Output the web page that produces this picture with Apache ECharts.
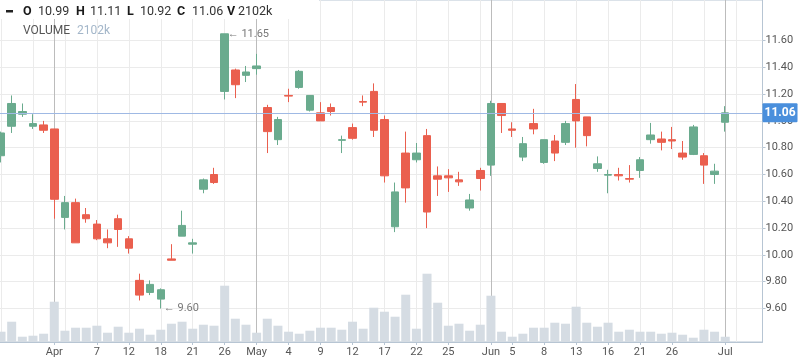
<!DOCTYPE html>
<html>
<head>
<meta charset="utf-8">
<script src="https://cdn.jsdelivr.net/npm/echarts@6/dist/echarts.min.js"></script>
<style>
html,body{margin:0;padding:0;background:#fff;}
#chart{width:798px;height:363px;}
</style>
</head>
<body>
<div id="chart"></div>
<script>
// ---- data ----
const categories = ['03-25','03-26','03-27','03-28','03-31','04-01','04-02','04-03','04-04','04-07','04-09','04-10','04-12','04-14','04-16','04-18','04-19','04-20','04-21','04-23','04-24','04-26','04-28','04-29','05-01','05-02','05-03','05-04','05-06','05-07','05-09','05-10','05-11','05-12','05-14','05-15','05-17','05-19','05-20','05-22','05-23','05-24','05-25','05-27','05-28','05-30','06-01','06-03','06-05','06-06','06-07','06-08','06-10','06-11','06-13','06-14','06-15','06-16','06-18','06-19','06-21','06-22','06-24','06-26','06-27','06-28','06-29','06-30','07-01'];
const padCategories = ['', ' ', '  '];
const opens  = [10.74,10.96,11.05,10.96,10.97,10.94,10.28,10.39,10.30,10.23,10.12,10.27,10.12,9.81,9.72,9.67,9.97,10.14,10.08,10.49,10.60,11.22,11.38,11.34,11.39,11.10,10.86,11.19,11.25,11.08,11.06,11.10,10.855,10.95,11.145,11.22,11.01,10.21,10.76,10.71,10.89,10.59,10.59,10.56,10.35,10.63,10.67,11.13,10.94,10.73,10.98,10.69,10.85,10.84,11.16,11.03,10.645,10.595,10.60,10.57,10.63,10.86,10.865,10.86,10.76,10.75,10.74,10.60,10.99];
const closes = [10.91,11.13,11.07,10.98,10.93,10.415,10.39,10.09,10.27,10.12,10.09,10.19,10.05,9.70,9.78,9.74,9.96,10.22,10.09,10.56,10.54,11.65,11.27,11.365,11.41,10.92,11.01,11.185,11.37,11.19,11.00,11.07,10.86,10.87,11.14,10.93,10.59,10.47,10.50,10.76,10.32,10.565,10.575,10.545,10.41,10.57,11.13,11.04,10.93,10.83,10.94,10.86,10.76,10.98,11.00,10.89,10.68,10.60,10.59,10.565,10.71,10.895,10.84,10.85,10.73,10.955,10.67,10.625,11.06];
const lows   = [10.69,10.91,11.03,10.94,10.91,10.27,10.19,10.09,10.24,10.11,10.05,10.06,10.01,9.66,9.70,9.60,9.96,10.14,10.01,10.46,10.53,11.16,11.17,11.29,11.345,10.76,10.82,11.14,11.24,11.07,11.00,11.04,10.76,10.86,11.11,10.88,10.54,10.17,10.39,10.69,10.20,10.44,10.47,10.515,10.33,10.48,10.59,10.91,10.88,10.70,10.90,10.68,10.70,10.82,10.80,10.81,10.62,10.46,10.555,10.54,10.575,10.83,10.78,10.79,10.71,10.745,10.53,10.53,10.92];
const highs  = [10.92,11.19,11.13,11.05,11.00,10.94,10.44,10.42,10.35,10.26,10.19,10.30,10.14,9.86,9.81,9.75,10.08,10.33,10.12,10.57,10.65,11.65,11.39,11.41,11.50,11.12,11.03,11.24,11.38,11.19,11.14,11.13,10.89,10.98,11.19,11.28,11.04,10.54,10.92,10.835,10.94,10.66,10.64,10.62,10.455,10.65,11.15,11.13,10.99,10.88,11.09,10.86,10.895,11.00,11.275,11.03,10.735,10.635,10.65,10.67,10.73,10.985,10.92,10.955,10.85,10.97,10.76,10.68,11.11];
const volumesK = [4120,8120,2120,2520,3320,16120,4520,5720,5720,6520,3720,6120,3720,5320,2920,4920,7320,8120,5320,6920,6520,22520,9320,6920,3720,9320,6520,4120,3320,4520,5720,5720,4920,8120,5320,13720,12120,10120,18920,5320,27320,15720,6520,7320,4520,6920,18520,4120,2120,3320,5720,5720,7720,7320,14120,7720,6120,7720,4120,4920,4120,4120,3320,3720,2920,1720,4920,4120,2102];
const tickLabelIdx = [5,9,12,15,18,21,24,27,30,33,36,39,42,46,48,51,54,57,60,63,68];
const monthNames = {'01':'Jan','02':'Feb','03':'Mar','04':'Apr','05':'May','06':'Jun','07':'Jul'};
const priceTicks = [9.6,9.8,10.0,10.2,10.4,10.6,10.8,11.0,11.2,11.4,11.6];
const gridEvery = 3;
const highMark = {idx: 21, value: 11.65};
const lowMark = {idx: 15, value: 9.60};

// ---- derived ----
const allCats = categories.concat(padCategories);
const candles = opens.map((o, i) => [o, closes[i], lows[i], highs[i]]);
const last = candles.length - 1;
const monthIdx = categories.map((c, i) => c.endsWith('-01') ? i : -1).filter(i => i >= 0);
function catLabel(c) {
  if (!c || !c.trim()) return '';
  const [m, d] = c.split('-');
  return d === '01' ? monthNames[m] : String(parseInt(d, 10));
}
const vLines = [];
for (let i = 0; i < allCats.length; i += gridEvery) {
  if (monthIdx.indexOf(i) < 0) vLines.push({xAxis: i, lineStyle: {color: '#ebebeb', width: 1, type: 'solid'}});
}
monthIdx.forEach(i => vLines.push({xAxis: i, lineStyle: {color: '#bcbcbc', width: 1, type: 'solid'}}));

const UP = '#6aab8e', DOWN = '#ea5f4e';
const FONT = 'Roboto, "Noto Sans", sans-serif';
const fmtK = v => Math.round(v) + 'k';

const chart = echarts.init(document.getElementById('chart'), null, {renderer: 'canvas'});
const L = -4.3, R = 35.5;
const legendItems = [
  {t: 'O', x: 23, b: true}, {t: opens[last].toFixed(2), x: 38},
  {t: 'H', x: 76, b: true}, {t: highs[last].toFixed(2), x: 90},
  {t: 'L', x: 127, b: true}, {t: lows[last].toFixed(2), x: 140},
  {t: 'C', x: 177, b: true}, {t: closes[last].toFixed(2), x: 192},
  {t: 'V', x: 227, b: true}, {t: fmtK(volumesK[last]), x: 238}
];
const graphics = [
  {type: 'rect', left: 0, top: 0, shape: {x: 0, y: 0, width: 319, height: 19}, style: {fill: '#fff'}, z: 100, silent: true},
  {type: 'rect', shape: {x: 6, y: 10, width: 7, height: 2.5}, style: {fill: '#222'}, z: 101, silent: true}
];
legendItems.forEach(it => graphics.push({
  type: 'text', z: 101, silent: true,
  style: {text: it.t, x: it.x, y: 11.5, verticalAlign: 'middle', fill: it.b ? '#1a1a1a' : '#333',
          font: (it.b ? 'bold ' : '') + '12.5px ' + FONT}
}));
graphics.push({type: 'text', z: 101, silent: true, style: {text: 'VOLUME', x: 23, y: 31, verticalAlign: 'middle', fill: '#555', font: '12px ' + FONT}});
graphics.push({type: 'text', z: 101, silent: true, style: {text: fmtK(volumesK[last]), x: 77, y: 31, verticalAlign: 'middle', fill: '#a3b6c9', font: '12px ' + FONT}});

const option = {
  animation: false,
  textStyle: {fontFamily: FONT},
  grid: [
    {left: L, right: R, top: 40.5, bottom: 54.5, outerBoundsMode: 'none', containLabel: false},
    {left: L, right: R, top: 0, bottom: 21, outerBoundsMode: 'none', containLabel: false, show: true, borderColor: '#b7c5d3', borderWidth: 1, backgroundColor: 'transparent'}
  ],
  xAxis: [
    {type: 'category', gridIndex: 0, data: allCats, boundaryGap: true, show: false},
    {type: 'category', gridIndex: 1, data: allCats, boundaryGap: true,
     axisLine: {show: true, lineStyle: {color: '#b7c5d3'}},
     axisTick: {show: true, alignWithLabel: true, length: 3, lineStyle: {color: '#b7c5d3'}, interval: (i) => tickLabelIdx.indexOf(i) >= 0},
     axisLabel: {show: true, interval: (i) => tickLabelIdx.indexOf(i) >= 0, formatter: (v) => catLabel(v), color: '#555', fontSize: 11, margin: 5, fontFamily: FONT},
     splitLine: {show: false}}
  ],
  yAxis: [
    {type: 'value', gridIndex: 0, position: 'right', min: priceTicks[0], max: priceTicks[priceTicks.length - 1], interval: priceTicks[1] - priceTicks[0],
     axisLine: {show: false},
     axisTick: {show: true, length: 3, lineStyle: {color: '#b7c5d3'}},
     axisLabel: {show: true, margin: 3, color: '#555', fontSize: 11, fontFamily: FONT, formatter: (v) => v.toFixed(2)},
     splitLine: {show: true, lineStyle: {color: '#ebebeb', width: 1}}},
    {type: 'value', gridIndex: 1, position: 'right', min: 0, max: 136800, show: false, splitLine: {show: false}}
  ],
  graphic: graphics,
  series: [
    {
      type: 'bar', xAxisIndex: 1, yAxisIndex: 1, data: volumesK, barWidth: 9, z: 2,
      itemStyle: {color: '#d5dce3'}, silent: true,
      markLine: {silent: true, symbol: 'none', z: 1, label: {show: false}, data: vLines, animation: false}
    },
    {
      type: 'candlestick', xAxisIndex: 0, yAxisIndex: 0, data: candles, barWidth: 8, clip: false, z: 3,
      itemStyle: {color: UP, color0: DOWN, borderColor: UP, borderColor0: DOWN, borderWidth: 1},
      markLine: {
        silent: true, symbol: 'none', z: 6,
        data: [{yAxis: closes[last]}],
        lineStyle: {color: '#9fb9e4', width: 1, type: 'solid'},
        label: {show: true, position: 'end', distance: 0, formatter: () => closes[last].toFixed(2),
                backgroundColor: '#4a8fdc', color: '#fff', fontWeight: 'bold', fontSize: 12, lineHeight: 13,
                padding: [3, 2, 3, 2], borderRadius: 1, fontFamily: FONT}
      }
    },
    {
      type: 'scatter', xAxisIndex: 0, yAxisIndex: 0, clip: false, silent: true, z: 7,
      symbol: 'circle', symbolSize: 0,
      data: [[highMark.idx, highMark.value], [lowMark.idx, lowMark.value]],
      label: {show: true, position: 'right', distance: 3, color: '#555', fontSize: 11, fontFamily: FONT,
              formatter: (p) => '\u2190 ' + p.value[1].toFixed(2)}
    }
  ]
};
chart.setOption(option);
</script>
</body>
</html>
